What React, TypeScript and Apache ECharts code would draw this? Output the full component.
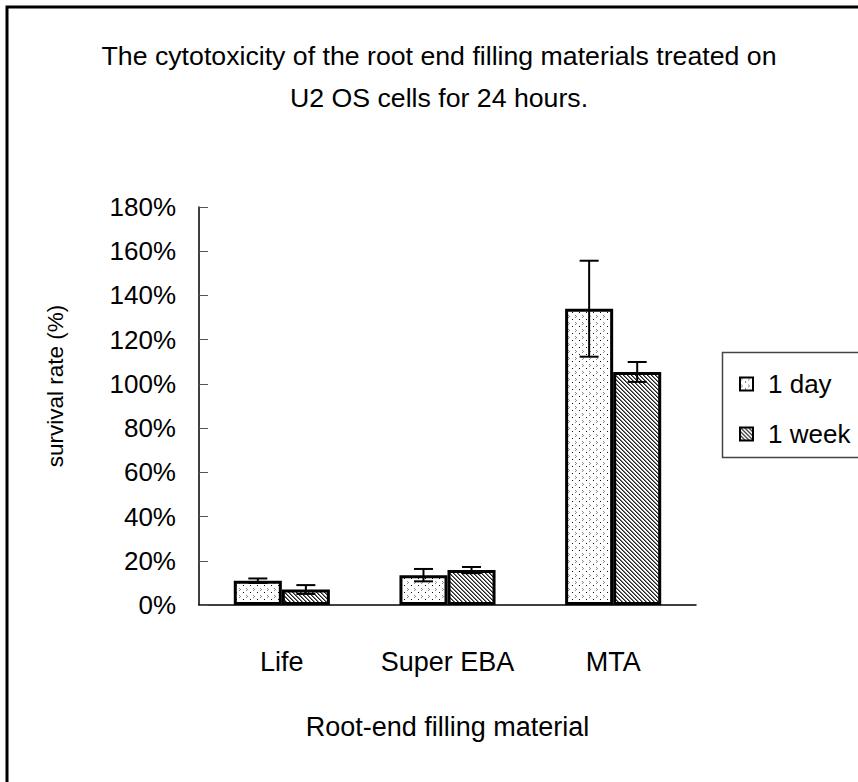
import React, { useEffect, useRef } from "react";
import * as echarts from "echarts";

const categories = ["Life", "Super EBA", "MTA"];
const seriesNames = ["1 day", "1 week"];
const dayValues = [0.11, 0.135, 1.34];
const dayErrors = [0.01, 0.028, 0.217];
const weekValues = [0.07, 0.158, 1.054];
const weekErrors = [0.02, 0.014, 0.045];
const yTicks = { min: 0, max: 1.8, interval: 0.2 };

const FONT = "'Liberation Sans', Arial, sans-serif";
const BAR_FRAC = 0.29;

function makeDayPattern(): HTMLCanvasElement {
  const c = document.createElement("canvas");
  c.width = 7;
  c.height = 7;
  const g = c.getContext("2d")!;
  g.fillStyle = "#ffffff";
  g.fillRect(0, 0, 7, 7);
  g.fillStyle = "#8c8c8c";
  g.fillRect(1, 0, 1, 1);
  g.fillRect(2, 1, 1, 1);
  g.fillRect(1, 2, 1, 1);
  g.fillStyle = "#111111";
  g.fillRect(5, 4, 1, 1);
  return c;
}

function makeWeekPattern(): HTMLCanvasElement {
  const c = document.createElement("canvas");
  c.width = 4;
  c.height = 4;
  const g = c.getContext("2d")!;
  g.fillStyle = "#ffffff";
  g.fillRect(0, 0, 4, 4);
  for (let i = 0; i < 4; i++) {
    g.fillStyle = "#222222";
    g.fillRect(i, i, 1, 1);
    g.fillStyle = "#7a7a7a";
    g.fillRect((i + 1) % 4, i, 1, 1);
  }
  return c;
}

export default function App() {
  const ref = useRef<HTMLDivElement>(null);
  useEffect(() => {
    if (!ref.current) return;
    const chart = echarts.init(ref.current, undefined, { renderer: "svg" });
    const dayPattern = { image: makeDayPattern(), repeat: "repeat" };
    const weekPattern = { image: makeWeekPattern(), repeat: "repeat" };

    const errData = (vals: number[], errs: number[]) =>
      vals.map((v, i) => [i, v, errs[i]]);

    const errRender = (offset: number) => (params: any, api: any) => {
      const idx = api.value(0);
      const v = api.value(1);
      const e = api.value(2);
      const band = api.size([1, 0])[0];
      const c = api.coord([idx, v]);
      const x = c[0] + offset * band * BAR_FRAC;
      const top = api.coord([idx, v + e])[1];
      const bot = api.coord([idx, v - e])[1];
      const half = 9.5;
      const style = { stroke: "#000", lineWidth: 2 };
      return {
        type: "group",
        children: [
          { type: "line", shape: { x1: x, y1: top, x2: x, y2: bot }, style },
          { type: "line", shape: { x1: x - half, y1: top, x2: x + half, y2: top }, style },
          { type: "line", shape: { x1: x - half, y1: bot, x2: x + half, y2: bot }, style },
        ],
      };
    };

    const textBase = { fontFamily: FONT, color: "#000" };

    chart.setOption({
      animation: false,
      backgroundColor: "#fff",
      title: {
        text: "The cytotoxicity of the root end filling materials treated on\nU2 OS cells for 24 hours.",
        left: 434,
        textAlign: "center",
        top: 30,
        textStyle: { ...textBase, fontSize: 26.7, fontWeight: "normal", lineHeight: 42 },
      },
      legend: {
        data: seriesNames,
        orient: "vertical",
        left: 734,
        top: 366,
        icon: "rect",
        itemWidth: 13,
        itemHeight: 13,
        itemGap: 24,
        textStyle: { ...textBase, fontSize: 26, padding: [0, 0, 0, 10] },
      },
      grid: { left: 199, top: 207, right: 162, bottom: 177, containLabel: false },
      xAxis: {
        type: "category",
        data: categories,
        name: "Root-end filling material",
        nameLocation: "middle",
        nameGap: 108,
        nameTextStyle: { ...textBase, fontSize: 27 },
        axisLine: { lineStyle: { color: "#000", width: 1.5 } },
        axisTick: { inside: true, length: 8, lineStyle: { color: "#000" } },
        axisLabel: { ...textBase, fontSize: 27, margin: 43, interval: 0 },
      },
      yAxis: {
        type: "value",
        min: yTicks.min,
        max: yTicks.max,
        interval: yTicks.interval,
        name: "survival rate (%)",
        nameLocation: "middle",
        nameGap: 132,
        nameTextStyle: { ...textBase, fontSize: 22.5, padding: [0, 0, 0, 40] },
        axisLine: { show: true, lineStyle: { color: "#000", width: 1.5 } },
        axisTick: { show: true, inside: true, length: 9, lineStyle: { color: "#555" } },
        axisLabel: {
          ...textBase,
          fontSize: 26,
          margin: 23,
          formatter: (v: number) => `${Math.round(v * 100)}%`,
        },
        splitLine: { show: false },
      },
      series: [
        {
          name: seriesNames[0],
          type: "bar",
          data: dayValues,
          barWidth: `${BAR_FRAC * 100}%`,
          barGap: "0%",
          itemStyle: { color: dayPattern, borderColor: "#000", borderWidth: 3 },
        },
        {
          name: seriesNames[1],
          type: "bar",
          data: weekValues,
          barWidth: `${BAR_FRAC * 100}%`,
          barGap: "0%",
          itemStyle: { color: weekPattern, borderColor: "#000", borderWidth: 3 },
        },
        {
          type: "custom",
          name: "err1",
          data: errData(dayValues, dayErrors),
          encode: { x: 0, y: 1 },
          renderItem: errRender(-0.5),
          z: 10,
        },
        {
          type: "custom",
          name: "err2",
          data: errData(weekValues, weekErrors),
          encode: { x: 0, y: 1 },
          renderItem: errRender(0.5),
          z: 10,
        },
      ],
      graphic: [
        {
          type: "rect",
          shape: { x: 7, y: 7, width: 900, height: 820 },
          style: { fill: "none", stroke: "#000", lineWidth: 3 },
          silent: true,
        },
        {
          type: "rect",
          shape: { x: 722.5, y: 352.5, width: 200, height: 105 },
          style: { fill: "none", stroke: "#444", lineWidth: 1.5 },
          silent: true,
        },
      ],
    });
    return () => chart.dispose();
  }, []);
  return (
    <div
      ref={ref}
      style={{ position: "fixed", left: 0, top: 0, width: 858, height: 782 }}
    />
  );
}
